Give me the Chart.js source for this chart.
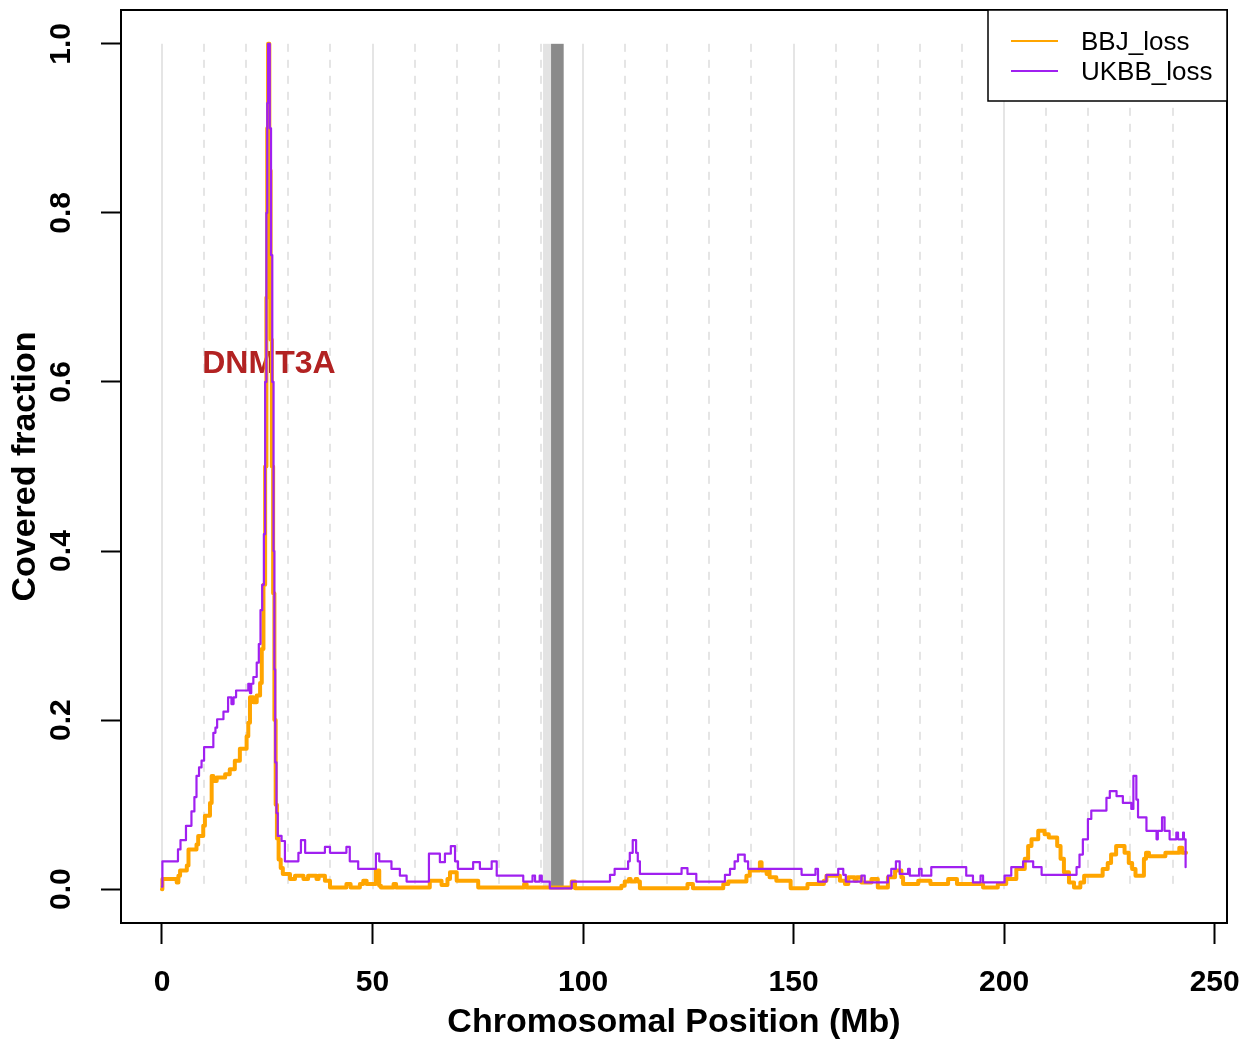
<!DOCTYPE html>
<html>
<head>
<meta charset="utf-8">
<script src="https://cdn.jsdelivr.net/npm/chart.js@4.4.0/dist/chart.umd.min.js"></script>
<style>
html,body{margin:0;padding:0;background:#fff;}
canvas{display:block;}
</style>
</head>
<body>
<canvas id="c" width="1246" height="1039"></canvas>
<script>
// ---------- data ----------
const seriesNames = ['BBJ_loss', 'UKBB_loss'];
const seriesColors = ['#FFA500', '#A020F0'];

const bbjPos = [0, 0.1, 3.5, 3.9, 4.3, 5.9, 6.3, 8.2, 8.6, 9.8, 10.2, 11.4, 11.8, 12.2, 13.0, 15.0, 16.1, 17.3, 18.5, 20.1,
  20.5, 20.9, 21.7, 22.5, 23.3, 23.7, 24.1, 24.5, 24.8, 25.0, 25.2, 25.5, 25.8, 26.1, 26.4, 26.7, 27.0, 27.3, 27.7, 28.2,
  28.7, 30.4, 31.6, 33.6, 34.7, 36.7, 37.2, 38.7, 39.9, 43.8, 44.8, 47.0, 47.8, 48.6, 50.8, 51.6, 52.0, 55.0, 55.6, 63.6,
  66.4, 67.8, 68.4, 70.0, 75.1, 86.0, 86.6, 97.3, 98.1, 109.1, 109.9, 110.9, 111.3, 112.5, 112.9, 113.5, 124.8, 126.1, 133.3, 134.5,
  138.8, 139.6, 142.0, 142.4, 143.6, 143.9, 144.3, 145.9, 149.3, 153.3, 157.2, 157.8, 161.0, 162.2, 163.0, 164.5, 165.0, 166.1, 168.5, 170.0,
  172.4, 174.1, 175.6, 176.0, 179.6, 182.5, 186.7, 188.8, 195.0, 198.5, 200.5, 202.9, 204.9, 205.7, 206.5, 208.1, 209.6, 210.6, 212.6, 213.4,
  214.2, 215.4, 216.6, 218.1, 219.0, 223.4, 224.6, 225.4, 226.6, 228.6, 229.6, 230.4, 231.2, 233.2, 233.7, 234.4, 238.3, 241.6, 242.3, 243.2];
const bbjFrac = [0.0, 0.012, 0.008, 0.016, 0.022, 0.028, 0.047, 0.053, 0.063, 0.075, 0.087, 0.102, 0.134, 0.128, 0.132, 0.136, 0.142, 0.152, 0.166, 0.181,
  0.197, 0.227, 0.221, 0.229, 0.244, 0.284, 0.36, 0.5, 0.7, 0.9, 1.0, 0.85, 0.65, 0.5, 0.35, 0.2, 0.1, 0.06, 0.035, 0.025,
  0.018, 0.012, 0.016, 0.012, 0.016, 0.012, 0.016, 0.010, 0.002, 0.006, 0.002, 0.006, 0.010, 0.006, 0.022, 0.004, 0.002, 0.006, 0.002, 0.010,
  0.005, 0.012, 0.020, 0.010, 0.002, 0.006, 0.002, 0.009, 0.001, 0.004, 0.009, 0.012, 0.009, 0.012, 0.009, 0.001, 0.006, 0.001, 0.006, 0.009,
  0.016, 0.022, 0.032, 0.022, 0.018, 0.022, 0.014, 0.010, 0.001, 0.006, 0.010, 0.016, 0.010, 0.006, 0.014, 0.010, 0.014, 0.008, 0.012, 0.002,
  0.014, 0.022, 0.014, 0.006, 0.010, 0.006, 0.012, 0.006, 0.002, 0.006, 0.012, 0.024, 0.036, 0.051, 0.059, 0.069, 0.065, 0.061, 0.051, 0.036,
  0.020, 0.008, 0.002, 0.008, 0.016, 0.024, 0.031, 0.041, 0.051, 0.043, 0.031, 0.024, 0.016, 0.036, 0.043, 0.039, 0.043, 0.049, 0.043, 0.043];

const ukbbPos = [0, 0.1, 3.8, 4.4, 5.7, 7.0, 7.7, 8.2, 8.8, 9.4, 10.0, 12.2, 12.7, 13.1, 14.6, 15.7, 16.5, 17.0, 17.6, 20.5,
  20.9, 21.2, 21.7, 22.5, 23.0, 23.4, 23.8, 24.2, 24.5, 24.8, 25.0, 25.2, 25.6, 25.9, 26.2, 26.5, 26.7, 26.9, 27.2, 27.5,
  28.4, 29.2, 32.4, 33.0, 34.0, 38.7, 39.9, 43.8, 44.6, 46.6, 50.8, 51.6, 54.5, 56.5, 58.1, 63.4, 66.0, 67.2, 68.6, 69.6,
  70.3, 73.9, 75.5, 78.3, 79.5, 85.8, 88.0, 88.6, 89.7, 90.2, 92.1, 97.3, 106.4, 107.5, 110.7, 111.1, 111.8, 112.6, 113.0, 113.5,
  123.4, 124.8, 126.9, 133.7, 134.9, 136.0, 136.8, 138.4, 139.2, 151.9, 155.2, 155.8, 157.8, 160.6, 161.8, 162.4, 166.1, 166.9, 172.4, 173.2,
  174.3, 175.2, 177.2, 177.6, 179.8, 180.4, 182.7, 191.0, 192.6, 194.4, 195.0, 200.1, 201.7, 204.5, 206.9, 208.9, 217.2, 217.9, 218.7, 219.9,
  220.7, 224.3, 225.1, 226.7, 228.2, 230.2, 230.7, 231.4, 231.8, 233.8, 236.2, 236.5, 237.5, 238.1, 239.3, 240.9, 241.3, 242.5, 242.7, 243.1];
const ukbbFrac = [0.003, 0.033, 0.047, 0.058, 0.075, 0.092, 0.109, 0.134, 0.144, 0.152, 0.168, 0.185, 0.191, 0.201, 0.21, 0.227, 0.219, 0.227, 0.235, 0.243,
  0.232, 0.243, 0.251, 0.268, 0.29, 0.33, 0.36, 0.42, 0.6, 0.8, 0.93, 1.0, 0.9, 0.75, 0.6, 0.4, 0.26, 0.15, 0.09, 0.063,
  0.057, 0.033, 0.043, 0.058, 0.043, 0.050, 0.043, 0.050, 0.033, 0.024, 0.042, 0.033, 0.024, 0.016, 0.009, 0.042, 0.032, 0.042, 0.051, 0.033,
  0.024, 0.032, 0.024, 0.033, 0.016, 0.009, 0.016, 0.009, 0.016, 0.009, 0.001, 0.009, 0.017, 0.024, 0.033, 0.043, 0.058, 0.043, 0.033, 0.018,
  0.025, 0.018, 0.009, 0.017, 0.024, 0.033, 0.041, 0.033, 0.024, 0.017, 0.024, 0.009, 0.017, 0.024, 0.017, 0.009, 0.016, 0.008, 0.016, 0.024,
  0.033, 0.018, 0.024, 0.016, 0.024, 0.016, 0.026, 0.016, 0.008, 0.016, 0.008, 0.016, 0.026, 0.033, 0.026, 0.017, 0.026, 0.041, 0.059, 0.083,
  0.093, 0.108, 0.116, 0.110, 0.102, 0.095, 0.134, 0.106, 0.085, 0.069, 0.059, 0.069, 0.085, 0.069, 0.059, 0.067, 0.059, 0.067, 0.059, 0.026];

const xTickValues = [0, 50, 100, 150, 200, 250];
const yTickValues = [0, 0.2, 0.4, 0.6, 0.8, 1.0];
const gridPositions = [0, 10, 20, 30, 40, 50, 60, 70, 80, 90, 100, 110, 120, 130, 140, 150, 160, 170, 180, 190, 200, 210, 220, 230, 240];
const centromereLight = [90.5, 92.4];
const centromereDark = [92.4, 95.4];
const geneLabel = 'DNMT3A';
const genePos = 25.4;
const geneLabelY = 0.611;
const xLimits = [-9.73, 252.93];
const yLimits = [-0.04, 1.04];

// ---------- drawing ----------
const FONT = "'Liberation Sans', Arial, Helvetica, sans-serif";

function toPoints(xs, ys) {
  const n = Math.min(xs.length, ys.length);
  const out = [];
  for (let i = 0; i < n; i++) out.push({x: xs[i], y: ys[i]});
  return out;
}

const decor = {
  id: 'decor',
  beforeDatasetsDraw(chart) {
    const {ctx, scales: {x, y}} = chart;
    const y0 = y.getPixelForValue(0), y1 = y.getPixelForValue(1);
    ctx.save();
    ctx.lineWidth = 2;
    ctx.strokeStyle = '#e5e5e5';
    gridPositions.forEach(v => {
      const px = Math.round(x.getPixelForValue(v));
      ctx.setLineDash(v % 50 === 0 ? [] : [8, 8]);
      ctx.beginPath();
      ctx.moveTo(px, y1);
      ctx.lineTo(px, y0);
      ctx.stroke();
    });
    ctx.setLineDash([]);
    const l0 = x.getPixelForValue(centromereLight[0]), l1 = x.getPixelForValue(centromereLight[1]);
    ctx.fillStyle = '#e3e3e3';
    ctx.fillRect(l0, y1, l1 - l0, y0 - y1);
    const d0 = x.getPixelForValue(centromereDark[0]), d1 = x.getPixelForValue(centromereDark[1]);
    ctx.fillStyle = '#8a8a8a';
    ctx.fillRect(d0, y1, d1 - d0, y0 - y1);
    ctx.font = 'bold 32px ' + FONT;
    ctx.fillStyle = '#B22222';
    ctx.textAlign = 'center';
    ctx.textBaseline = 'alphabetic';
    ctx.fillText(geneLabel, x.getPixelForValue(genePos), y.getPixelForValue(geneLabelY));
    ctx.restore();
  },
  afterDraw(chart) {
    const {ctx, chartArea: a} = chart;
    ctx.save();
    ctx.strokeStyle = '#000';
    ctx.lineWidth = 2;
    ctx.strokeRect(a.left, a.top, a.right - a.left, a.bottom - a.top);
    // legend (top-right inset)
    const w = 239, h = 91;
    const lx = a.right - w, ly = a.top;
    ctx.fillStyle = '#fff';
    ctx.fillRect(lx, ly, w, h);
    ctx.lineWidth = 1.5;
    ctx.strokeRect(lx, ly, w, h);
    ctx.font = '26px ' + FONT;
    ctx.textAlign = 'left';
    ctx.textBaseline = 'middle';
    seriesNames.forEach((name, i) => {
      const yy = ly + 31 + i * 30;
      ctx.strokeStyle = seriesColors[i];
      ctx.lineWidth = 2;
      ctx.beginPath();
      ctx.moveTo(lx + 23, yy);
      ctx.lineTo(lx + 70, yy);
      ctx.stroke();
      ctx.fillStyle = '#000';
      ctx.fillText(name, lx + 93, yy + 2);
    });
    ctx.restore();
  }
};

function fixX(s) { s.height = 116; s.paddingLeft = 0; s.paddingRight = 0; s.paddingTop = 0; s.paddingBottom = 0; }
function fixY(s) { s.width = 121; s.paddingLeft = 0; s.paddingRight = 0; s.paddingTop = 0; s.paddingBottom = 0; }

new Chart(document.getElementById('c'), {
  type: 'line',
  data: {
    datasets: [
      {label: seriesNames[0], data: toPoints(bbjPos, bbjFrac), borderColor: seriesColors[0], backgroundColor: seriesColors[0],
       borderWidth: 4, stepped: true, pointRadius: 0, fill: false, order: 2, borderJoinStyle: 'round', borderCapStyle: 'round'},
      {label: seriesNames[1], data: toPoints(ukbbPos, ukbbFrac), borderColor: seriesColors[1], backgroundColor: seriesColors[1],
       borderWidth: 2.2, stepped: true, pointRadius: 0, fill: false, order: 1, borderJoinStyle: 'round', borderCapStyle: 'round'}
    ]
  },
  options: {
    responsive: false,
    animation: false,
    devicePixelRatio: 1,
    layout: {padding: {top: 10, right: 19, left: 0, bottom: 0}},
    plugins: {legend: {display: false}, tooltip: {enabled: false}},
    scales: {
      x: {
        type: 'linear', position: 'bottom', min: xLimits[0], max: xLimits[1],
        afterBuildTicks: s => { s.ticks = xTickValues.map(v => ({value: v})); },
        afterFit: fixX,
        ticks: {font: {family: FONT, size: 30, weight: 'bold'}, color: '#000', padding: 21,
                minRotation: 0, maxRotation: 0, autoSkip: false, callback: v => String(v)},
        grid: {display: true, drawOnChartArea: false, drawTicks: true, tickLength: 21, tickWidth: 2, tickColor: '#000'},
        border: {display: false},
        title: {display: true, text: 'Chromosomal Position (Mb)', color: '#000',
                font: {family: FONT, size: 34, weight: 'bold', lineHeight: 1}, padding: {top: 0, bottom: -1}}
      },
      y: {
        type: 'linear', position: 'left', min: yLimits[0], max: yLimits[1],
        afterBuildTicks: s => { s.ticks = yTickValues.map(v => ({value: v})); },
        afterFit: fixY,
        ticks: {font: {family: FONT, size: 30, weight: 'bold'}, color: '#000', padding: 18,
                minRotation: 90, maxRotation: 90, crossAlign: 'center', autoSkip: false, callback: v => Number(v).toFixed(1)},
        grid: {display: true, drawOnChartArea: false, drawTicks: true, tickLength: 20, tickWidth: 2, tickColor: '#000'},
        border: {display: false},
        title: {display: true, text: 'Covered fraction', color: '#000',
                font: {family: FONT, size: 34, weight: 'bold', lineHeight: 1}, padding: {top: 9, bottom: 0}}
      }
    }
  },
  plugins: [decor]
});
</script>
</body>
</html>
